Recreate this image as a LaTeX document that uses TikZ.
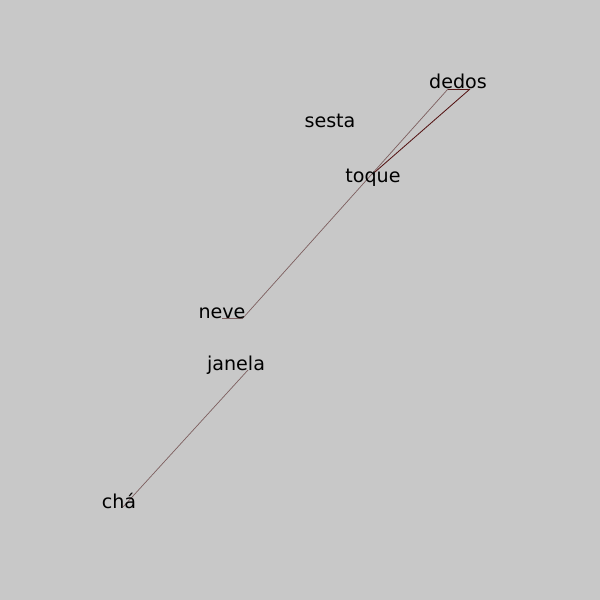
\documentclass[tikz,border=0pt]{standalone}
\usepackage{fontspec}
\setmainfont{DejaVu Sans}
\definecolor{bg}{RGB}{200,200,200}
\definecolor{lightedge}{RGB}{125,95,95}
\definecolor{darkedge}{RGB}{85,20,20}

\begin{document}
\begin{tikzpicture}[x=0.025cm,y=-0.025cm,
	word/.style={black,inner sep=0pt,anchor=base,font=\fontsize{13.6pt}{15pt}\selectfont},
	edge/.style={lightedge,line width=0.5pt},
	strongedge/.style={darkedge,line width=0.6pt}]
	\fill[bg] (0,0) rectangle (600,600);
	\useasboundingbox (0,0) rectangle (600,600);

	\coordinate (dedosA) at (448,89);
	\coordinate (dedosB) at (470,89);
	\coordinate (neveS) at (222,318);
	\coordinate (neveE) at (243,318);
	\coordinate (toqueC) at (375,172);
	\coordinate (janelaE) at (248,370);
	\coordinate (chaE) at (123,507);

	\draw[edge] (neveS) -- (neveE);
	\draw[edge] (neveE) -- (dedosA);
	\draw[strongedge] (dedosA) -- (dedosB);
	\draw[strongedge] (dedosB) -- (toqueC);
	\draw[edge] (janelaE) -- (chaE);

	\node[word] (dedos) at (458,88) {dedos};
	\node[word] (sesta) at (330,127) {sesta};
	\node[word] (toque) at (373,182) {toque};
	\node[word] (neve) at (222,318) {neve};
	\node[word] (janela) at (236,370) {janela};
	\node[word] (cha) at (119,508) {chá};
\end{tikzpicture}
\end{document}
